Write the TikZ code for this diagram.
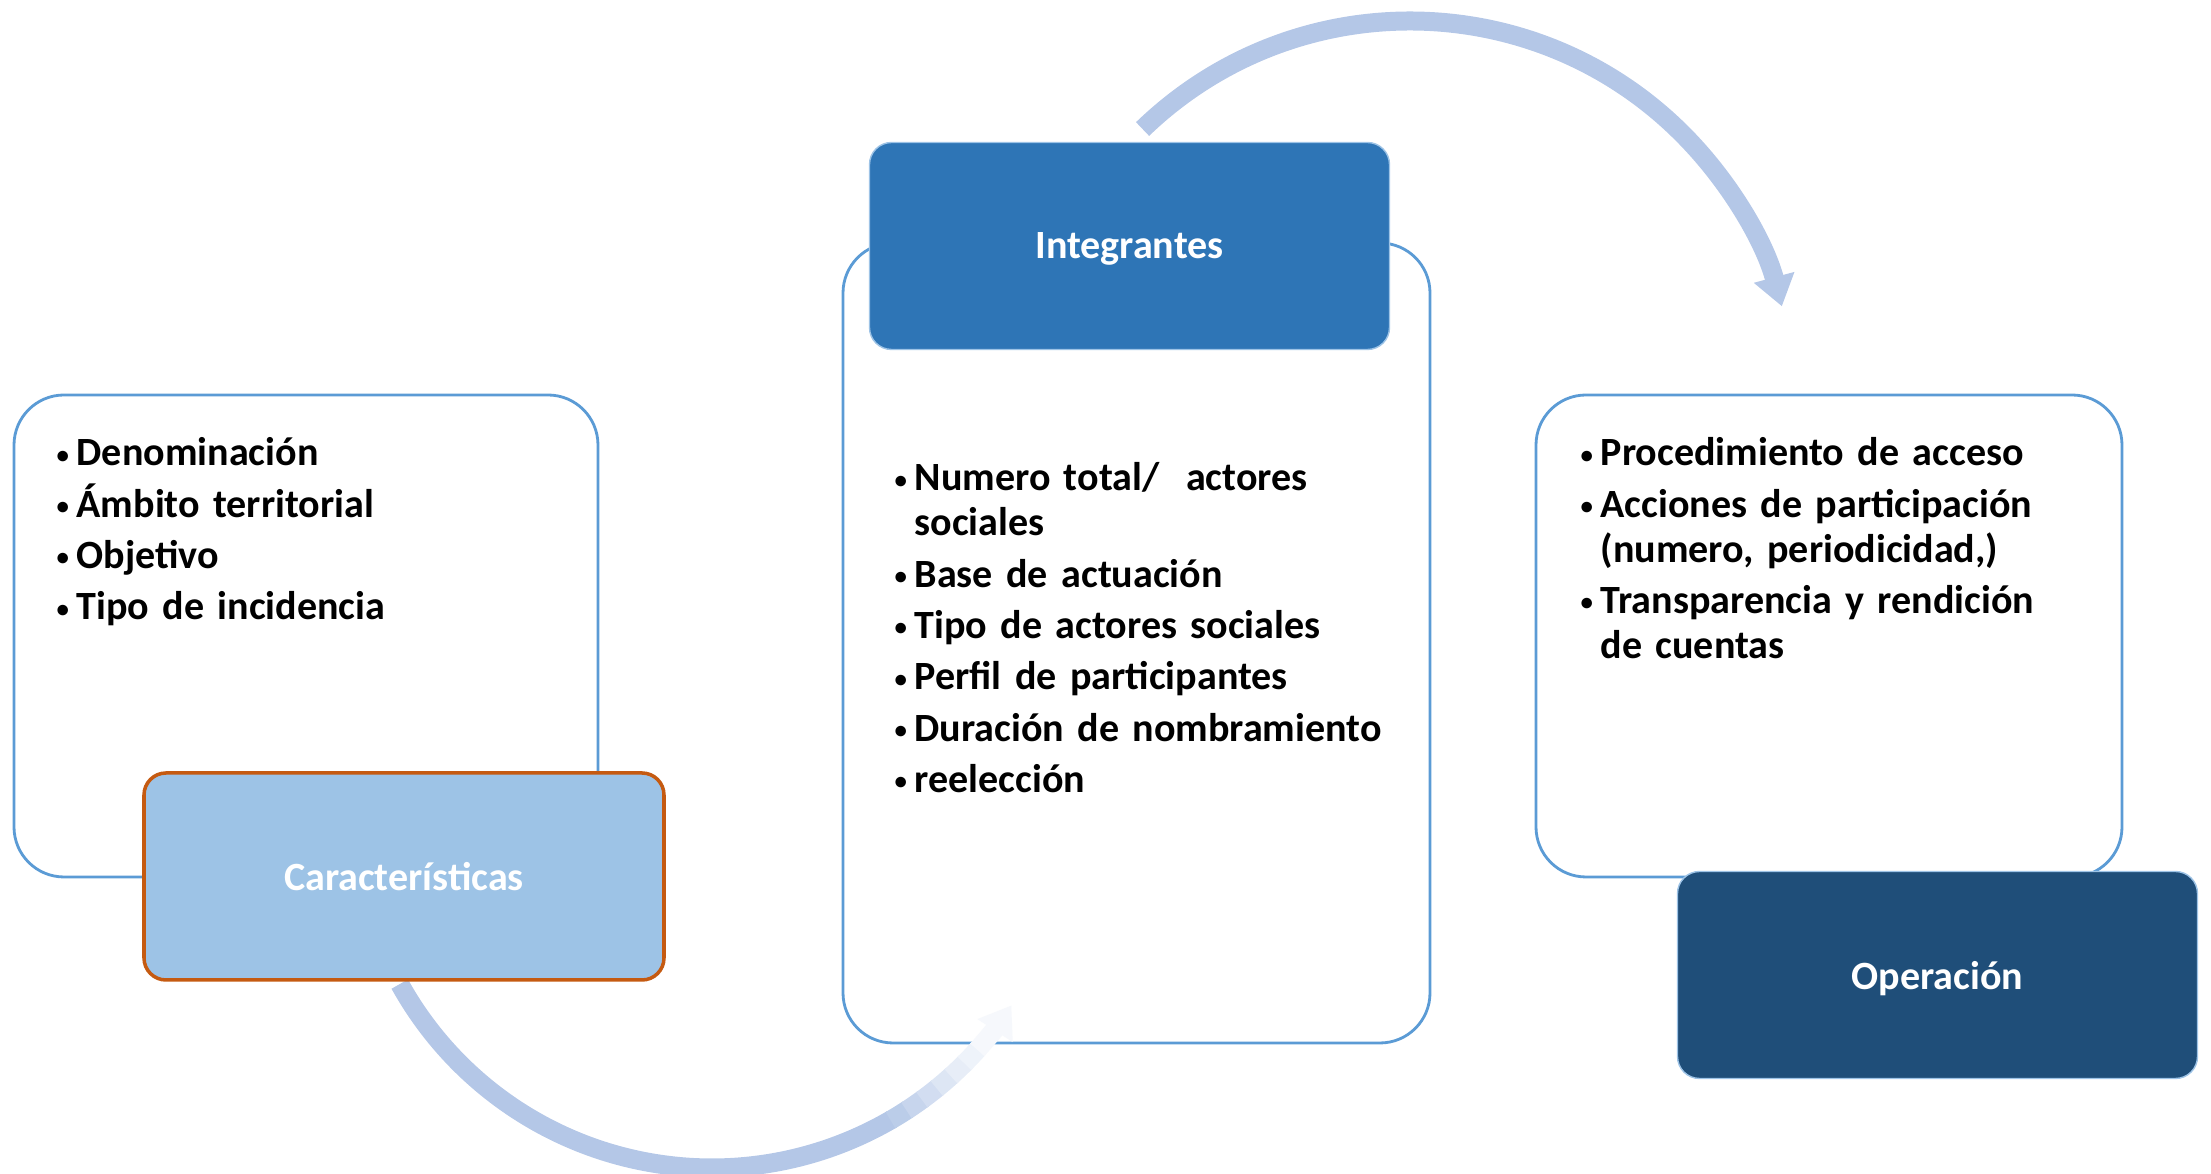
\documentclass[tikz,border=0pt]{standalone}
\usepackage[dvipsnames]{xcolor}
\usepackage{graphicx}
\usepackage{fontspec}
\setmainfont{Carlito}
\usepackage{tikz}
\usetikzlibrary{arrows.meta}

\definecolor{boxline}{HTML}{5B9BD5}
\definecolor{flowblue}{HTML}{B4C7E7}
\definecolor{lightfill}{HTML}{9DC3E6}
\definecolor{orangeline}{HTML}{C55A11}
\definecolor{midfill}{HTML}{2E75B6}
\definecolor{darkfill}{HTML}{1F4E79}

\newcommand{\bulitem}[1]{\par\hangindent=2mm\hangafter=1\noindent\rule{0pt}{3.5mm}\makebox[2mm][l]{\raisebox{0.15ex}{\scalebox{0.62}{\textbullet}}}#1\par}

\begin{document}
\begin{tikzpicture}[x=0.1mm, y=0.1mm,
    panel/.style={rectangle, draw=boxline, line width=0.8pt, fill=white, rounded corners=5mm, inner sep=0pt},
    title/.style={rectangle, rounded corners=2.2mm, minimum width=52mm, minimum height=20.7mm, inner sep=0pt, text depth=0pt, text=white, font=\bfseries\fontsize{11.4}{14}\selectfont},
    items/.style={anchor=north west, inner sep=0pt, text width=55mm, font={\bfseries\fontsize{11.4}{12.8}\selectfont\raggedright\setlength{\parskip}{1.8pt}\lineskiplimit=-\maxdimen}},
    flow/.style={draw=flowblue, line width=1.9mm}]
    \useasboundingbox (0, 0) rectangle (2211, 1174);

    % draw white panels
    \node[panel, minimum width=58.4mm, minimum height=48.2mm] (carpanel) at (306, 538) {};
    \node[panel, minimum width=58.7mm, minimum height=80mm] (intpanel) at (1136.5, 531) {};
    \node[panel, minimum width=58.6mm, minimum height=48.2mm] (oppanel) at (1829, 538) {};

    % draw bullet lists
    \node[items] (carlist) at (56, 760) {\bulitem{Denominación}\bulitem{Ámbito territorial}\bulitem{Objetivo}\bulitem{Tipo de incidencia}};
    \node[items] (intlist) at (894, 735) {\bulitem{Numero total/~ actores\newline sociales}\bulitem{Base de actuación}\bulitem{Tipo de actores sociales}\bulitem{Perfil de participantes}\bulitem{Duración de nombramiento}\bulitem{reelección}};
    \node[items] (oplist) at (1580, 760) {\bulitem{Procedimiento de acceso}\bulitem{Acciones de participación\newline (numero, periodicidad,)}\bulitem{Transparencia y rendición\newline de cuentas}};

    % draw top arrow
    \coordinate (topc) at (1410, 768);
    \draw[flow, -{Triangle[length=3mm, width=4mm]}] (topc) ++(134:38.5mm) arc[start angle=134, end angle=15, radius=38.5mm];

    % draw bottom arrow, fading out near the tip
    \coordinate (botc) at (712, 363);
    \draw[flow] (botc) ++(209:35.7mm) arc[start angle=209, end angle=300.3, radius=35.7mm];
    \foreach \a/\p in {300/90, 303/75, 306/60, 309/45, 312/32, 315/22}
        \draw[flow, draw=flowblue!\p] (botc) ++(\a:35.7mm) arc[start angle=\a, delta angle=3.3, radius=35.7mm];
    \draw[flow, draw=flowblue!12, -{Triangle[length=3mm, width=4mm]}] (botc) ++(318:35.7mm) arc[start angle=318, end angle=327, radius=35.7mm];

    % draw title boxes
    \node[title, fill=lightfill, draw=orangeline, line width=1pt] (cartitle) at (404, 297.5) {Características};
    \node[title, fill=midfill, draw=boxline!60, line width=0.4pt] (inttitle) at (1129.5, 928) {Integrantes};
    \node[title, fill=darkfill, draw=boxline!60, line width=0.4pt] (optitle) at (1937.5, 199) {Operación};

\end{tikzpicture}
\end{document}
